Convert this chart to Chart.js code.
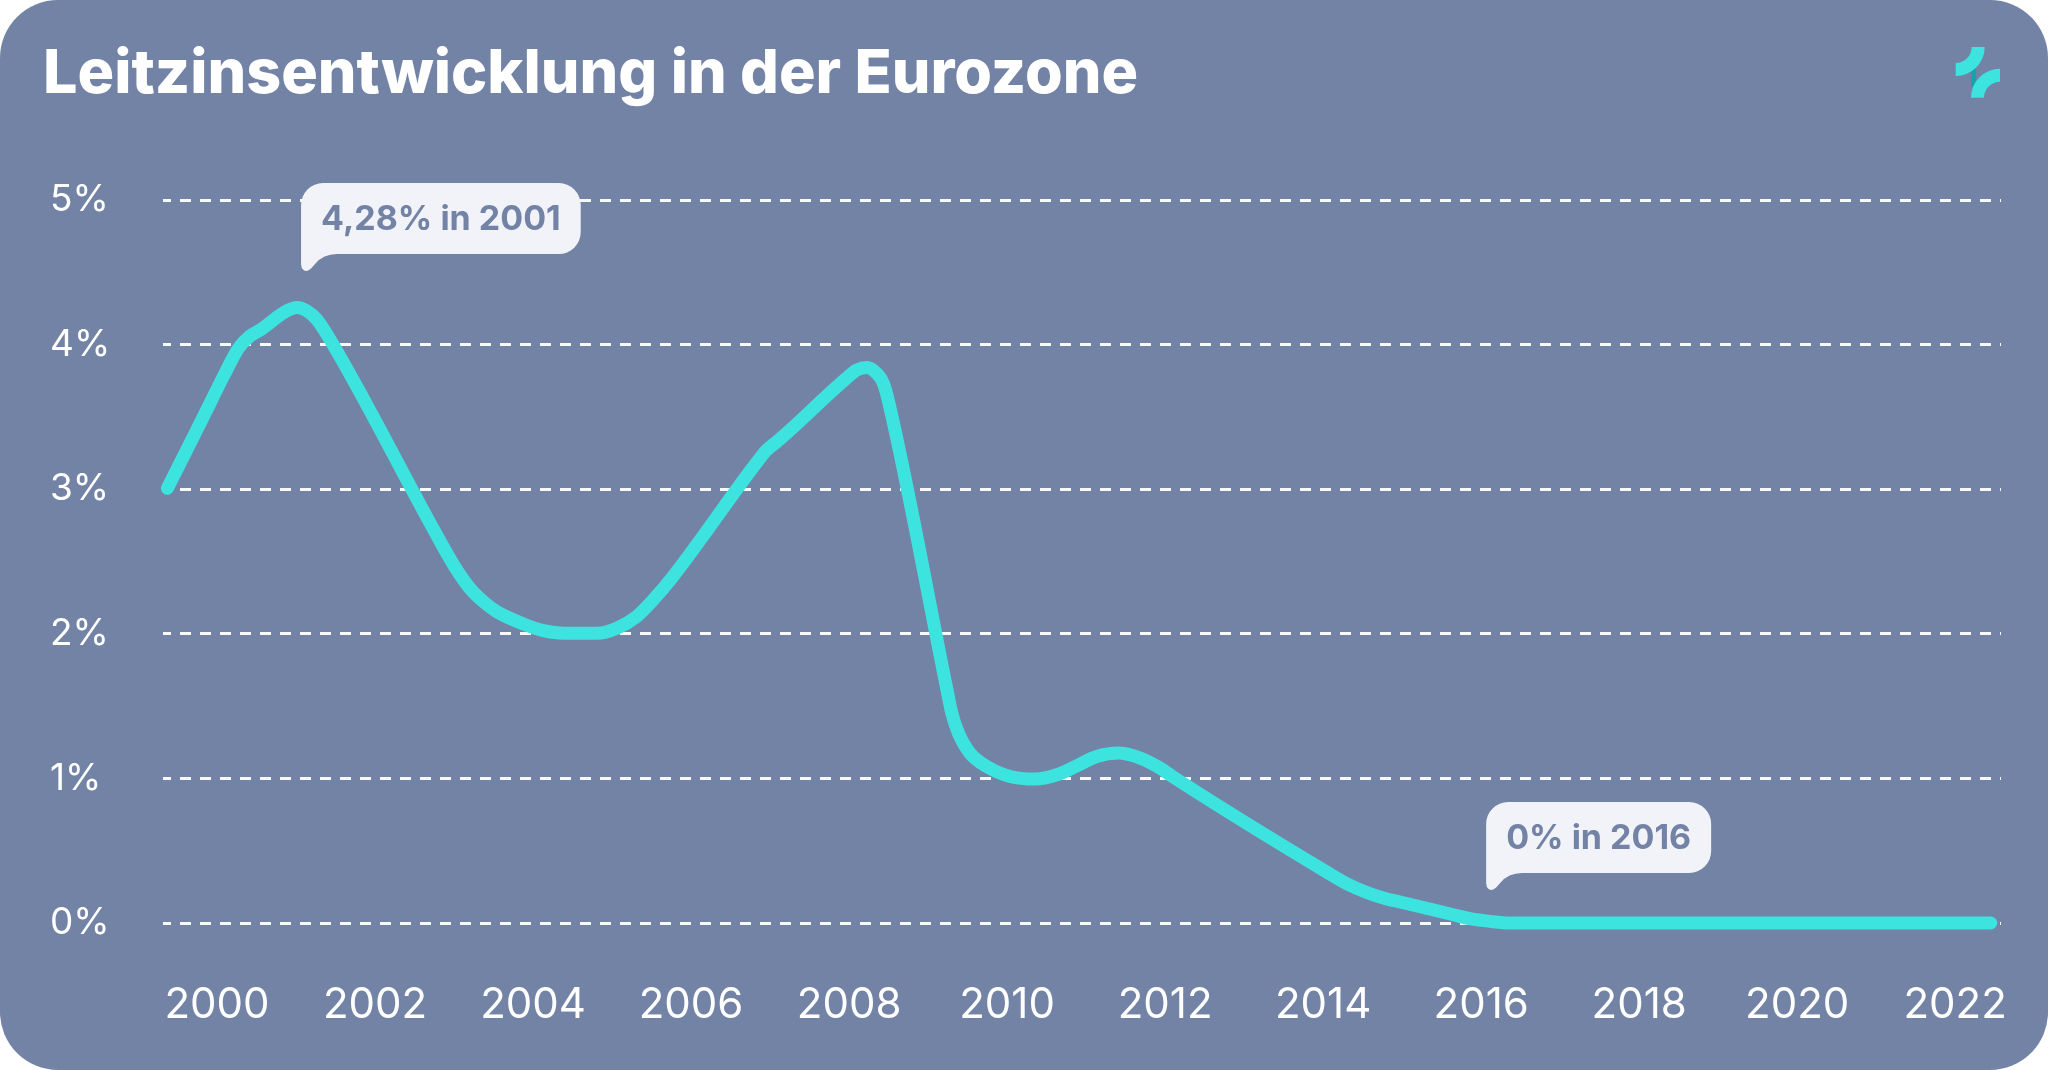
<!DOCTYPE html>
<html><head><meta charset="utf-8">
<script src="https://cdn.jsdelivr.net/npm/chart.js@4.4.1/dist/chart.umd.min.js"></script>
<style>
html,body{margin:0;padding:0;background:#fff;}
#card{position:absolute;left:0;top:0;width:2048px;height:1070px;background:#7383a5;border-radius:58px;overflow:hidden;}
#title{position:absolute;left:43px;top:41px;margin:0;font-family:Inter,sans-serif;font-weight:800;font-size:61px;line-height:61px;color:#fff;white-space:nowrap;}
#logo{position:absolute;left:1940px;top:36px;}
#c{position:absolute;left:0;top:0;}
</style></head><body>
<div id="card">
<h1 id="title">Leitzinsentwicklung in der Eurozone</h1>
<svg id="logo" width="70" height="72" viewBox="1940 36 70 72">
  <rect x="1971" y="57" width="5" height="30" fill="#17a3aa"/>
  <path d="M1984.7 47 L1971.7 47 A16 16 0 0 1 1955.7 63 L1955.7 76 A29 29 0 0 0 1984.7 47 Z" fill="#3de4df"/>
  <path d="M1971 97.7 L1984 97.7 A16 16 0 0 1 2000 81.7 L2000 68.7 A29 29 0 0 0 1971 97.7 Z" fill="#3de4df"/>
</svg>
<canvas id="c" width="2048" height="1070"></canvas>
</div>
<script>
// Policy rate curve: positions in years, values in percent
const years = [1999.371, 1999.785, 2000.100, 2000.270, 2000.418, 2000.544, 2000.797, 2000.900, 2001.009, 2001.135, 2001.262,
  2001.515, 2002.865, 2003.034, 2003.200, 2003.371, 2003.540, 2003.877, 2004.130, 2004.384, 2004.806, 2005.060, 2005.310, 2005.520,
  2005.776, 2006.832, 2006.958, 2007.085, 2007.210, 2007.970, 2008.097, 2008.224, 2008.350, 2008.434, 2008.500, 2009.236,
  2009.300, 2009.384, 2009.530, 2009.743, 2010.038, 2010.354, 2010.630, 2010.882, 2011.135, 2011.410, 2011.684, 2011.937,
  2012.105, 2014.047, 2014.300, 2014.553, 2014.806, 2014.975, 2015.650, 2015.860, 2016.114, 2016.367, 2022.450];
const rates = [3.006, 3.455, 3.801, 3.974, 4.059, 4.100, 4.204, 4.238, 4.257, 4.234, 4.174,
  3.956, 2.599, 2.442, 2.315, 2.222, 2.153, 2.068, 2.022, 2.004, 2.004, 2.039, 2.119, 2.234,
  2.400, 3.186, 3.271, 3.328, 3.388, 3.769, 3.824, 3.842, 3.801, 3.732, 3.605, 1.621,
  1.451, 1.313, 1.175, 1.082, 1.013, 0.995, 1.025, 1.087, 1.151, 1.175, 1.140, 1.071,
  1.009, 0.352, 0.272, 0.211, 0.166, 0.145, 0.057, 0.030, 0.011, 0.000, 0.000];
const tickYears = [2000, 2002, 2004, 2006, 2008, 2010, 2012, 2014, 2016, 2018, 2020, 2022];
const rateTicks = [0, 1, 2, 3, 4, 5];
const noteTexts = ['4,28% in 2001', '0% in 2016'];
const noteYears = [2001, 2016];
const noteRates = [4.28, 0];

const points = years.map((yr, i) => ({x: yr, y: rates[i]}));

const bubblePlugin = {
  id: 'bubbles',
  afterDraw(chart) {
    const ctx = chart.ctx;
    const xs = chart.scales.x, ys = chart.scales.y;
    ctx.save();
    ctx.font = '700 34px Inter, sans-serif';
    noteTexts.forEach((t, i) => {
      const px = xs.getPixelForValue(noteYears[i]);
      const py = ys.getPixelForValue(noteRates[i]);
      const left = px + 5, bottom = py - 50, top = py - 121;
      const w = ctx.measureText(t).width + 40;
      const right = left + w, r = 22;
      ctx.beginPath();
      ctx.moveTo(left, top + r);
      ctx.arcTo(left, top, left + r, top, r);
      ctx.lineTo(right - r, top);
      ctx.arcTo(right, top, right, top + r, r);
      ctx.lineTo(right, bottom - r);
      ctx.arcTo(right, bottom, right - r, bottom, r);
      ctx.lineTo(left + 36, bottom);
      ctx.quadraticCurveTo(left + 22, bottom, left + 14, bottom + 10);
      ctx.lineTo(left + 10, bottom + 14.5);
      ctx.quadraticCurveTo(left + 6, bottom + 18.5, left + 2.5, bottom + 16);
      ctx.quadraticCurveTo(left, bottom + 14, left, bottom + 10);
      ctx.closePath();
      ctx.fillStyle = '#f1f3f8';
      ctx.fill();
      ctx.fillStyle = '#7383a5';
      ctx.textBaseline = 'middle';
      ctx.textAlign = 'left';
      ctx.fillText(t, left + 20, (top + bottom) / 2 + 1);
    });
    ctx.restore();
  }
};

new Chart(document.getElementById('c'), {
  type: 'line',
  data: {datasets: [{
    data: points,
    borderColor: '#3de4df',
    borderWidth: 13,
    pointRadius: 0,
    pointHoverRadius: 0,
    cubicInterpolationMode: 'monotone',
    borderCapStyle: 'round',
    borderJoinStyle: 'round',
    fill: false,
    clip: 10
  }]},
  options: {
    responsive: false,
    animation: false,
    devicePixelRatio: 1,
    events: [],
    layout: {padding: {left: 50, right: 47, top: 200, bottom: 0}},
    plugins: {legend: {display: false}, tooltip: {enabled: false}, title: {display: false}},
    scales: {
      x: {
        type: 'linear', min: 1999.316, max: 2022.58,
        grid: {display: false, drawTicks: false},
        border: {display: false},
        afterBuildTicks: s => { s.ticks = tickYears.map(v => ({value: v})); },
        afterFit: s => { s.height = 147; },
        ticks: {color: '#ffffff', font: {family: 'Inter', size: 42, weight: '400', lineHeight: '164px'}, padding: 0, maxRotation: 0, autoSkip: false, callback: v => String(v)}
      },
      y: {
        min: 0, max: 5,
        afterBuildTicks: s => { s.ticks = rateTicks.map(v => ({value: v})); },
        afterFit: s => { s.width = 113; },
        grid: {color: 'rgba(255,255,255,0.95)', lineWidth: 3, drawTicks: false},
        border: {display: false, dash: [11, 9], dashOffset: 3},
        ticks: {color: '#ffffff', font: {family: 'Inter', size: 37, weight: '400'}, crossAlign: 'far', padding: 0, callback: v => v + '%'}
      }
    }
  },
  plugins: [bubblePlugin]
});
</script>
</body></html>
